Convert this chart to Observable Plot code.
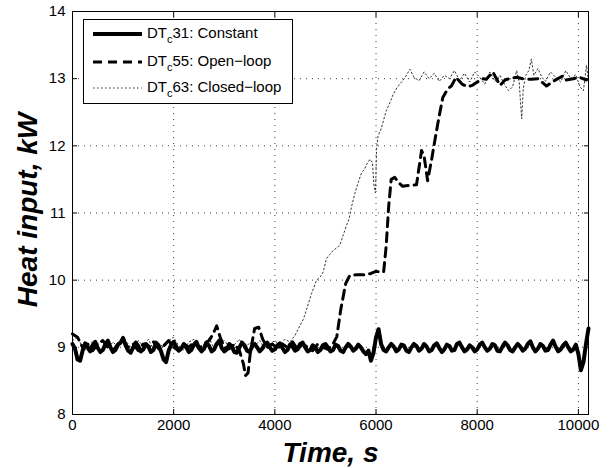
<!DOCTYPE html>
<html><head><meta charset="utf-8">
<script src="https://cdn.jsdelivr.net/npm/d3@7"></script>
<script src="https://cdn.jsdelivr.net/npm/@observablehq/plot@0.6"></script>
<style>
body{margin:0;background:#fff;}
#chart{position:relative;width:610px;height:468px;}
#legend{position:absolute;left:83px;top:19px;}
</style></head><body><div id="chart"></div>
<script>
// ---- data ----
const xTicks = [0, 2000, 4000, 6000, 8000, 10000];
const yTicks = [8, 9, 10, 11, 12, 13, 14];
const seriesPrefix = ["DT", "c"];
const seriesNames = ["31: Constant", "55: Open\u2212loop", "63: Closed\u2212loop"];

// DT_c31: Constant — sampled every 50 s from 0 s
const constantStart = 0;
const constantStep = 50;
const constantHeat = [
  9.05, 8.98, 8.82, 8.8, 8.95, 9.06, 9.0, 8.94, 9.03, 9.08, 8.99, 8.93, 8.96, 9.05, 9.1, 9.0, 8.93, 8.96, 9.04, 9.07,
  9.14, 9.03, 8.95, 8.92, 9.0, 9.07, 9.02, 8.94, 8.97, 9.05, 9.01, 8.93, 8.96, 9.07, 9.03, 8.94, 8.82, 8.78, 8.95, 9.04,
  9.08, 9.01, 8.95, 8.98, 9.05, 9.0, 8.93, 8.96, 9.04, 9.08, 8.99, 8.94, 8.98, 9.07, 9.02, 8.94, 8.97, 9.05, 9.1, 8.99,
  8.94, 8.97, 9.05, 9.01, 8.93, 8.92, 9.0, 9.07, 9.03, 8.95, 8.93, 9.01, 9.05, 9.0, 8.94, 8.98, 9.04, 9.07, 9.0, 8.95,
  8.97, 9.03, 9.06, 8.99, 8.93, 8.96, 9.04, 9.01, 8.95, 8.97, 9.05, 9.07, 9.0, 8.94, 8.96, 9.03, 9.0, 8.93, 8.96, 9.03,
  9.05, 9.0, 8.94, 8.96, 9.04, 9.02, 8.95, 8.93, 9.0, 9.05, 9.01, 8.95, 8.98, 9.04, 9.0, 8.94, 8.9, 8.95, 8.8, 8.92,
  9.15, 9.27, 9.05, 8.96, 8.94, 9.0, 9.05, 9.01, 8.94, 8.97, 9.04, 9.03, 8.95, 8.93, 9.0, 9.05, 9.02, 8.95, 8.98, 9.05,
  9.01, 8.94, 8.96, 9.03, 9.06, 8.99, 8.93, 8.97, 9.04, 9.02, 8.95, 8.96, 9.05, 9.07, 9.0, 8.94, 8.97, 9.03, 9.0, 8.94,
  8.97, 9.04, 9.07, 9.0, 8.95, 8.98, 9.05, 9.03, 8.95, 8.94, 9.01, 9.07, 9.03, 8.96, 8.94, 9.0, 9.05, 9.01, 8.95, 8.98,
  9.05, 9.09, 9.0, 8.94, 8.98, 9.05, 9.02, 8.95, 8.96, 9.04, 9.1, 9.01, 8.94, 8.97, 9.03, 9.07, 9.0, 8.94, 8.97, 9.04,
  8.9, 8.66, 8.78, 9.05, 9.28
];

// DT_c55: Open-loop
const openTime = [
  0, 100, 200, 300, 400, 500, 600, 700, 800, 900, 1000, 1100, 1200, 1300, 1400, 1500, 1600, 1700, 1800, 1900,
  2000, 2100, 2200, 2300, 2400, 2500, 2600, 2700, 2780, 2850, 2920, 3000, 3100, 3200, 3300, 3380, 3420, 3470, 3520, 3600,
  3680, 3760, 3850, 3950, 4050, 4150, 4250, 4350, 4450, 4550, 4650, 4750, 4850, 4950, 5050, 5150, 5225, 5300, 5400, 5480,
  5600, 5800, 5900, 6000, 6150, 6200, 6250, 6300, 6370, 6450, 6520, 6650, 6800, 6900, 6950, 7020, 7100, 7160, 7250, 7320,
  7420, 7490, 7580, 7700, 7810, 7900, 8000, 8110, 8180, 8310, 8450, 8550, 8680, 8780, 8900, 9070, 9200, 9370, 9500, 9690,
  9760, 9900, 10020, 10160
];
const openHeat = [
  9.2, 9.15, 9.0, 9.05, 8.95, 9.05, 9.1, 9.0, 8.95, 9.05, 9.1, 9.0, 9.05, 8.95, 9.05, 9.0, 9.08, 8.98, 9.02, 9.1,
  9.0, 8.95, 9.05, 9.0, 9.08, 8.98, 9.05, 9.1, 9.2, 9.32, 9.15, 9.0, 8.98, 9.05, 8.95, 8.75, 8.58, 8.62, 8.95, 9.28,
  9.3, 9.12, 9.0, 9.05, 8.98, 9.05, 9.0, 9.08, 8.97, 9.05, 9.0, 8.95, 9.05, 9.0, 8.97, 9.05, 9.16, 9.55, 9.95, 10.07,
  10.08, 10.08, 10.1, 10.13, 10.12, 10.5, 11.1, 11.5, 11.53, 11.45, 11.4, 11.41, 11.42, 11.93, 11.85, 11.48, 11.8, 12.07, 12.45, 12.72,
  12.85, 12.89, 13.02, 12.92, 12.88, 12.9, 12.95, 13.0, 12.99, 13.1, 12.9, 12.98, 13.01, 13.02, 13.0, 12.99, 13.0, 12.89, 12.96, 13.04,
  12.98, 13.0, 13.02, 12.98
];

// DT_c63: Closed-loop
const closedTime = [
  0, 100, 200, 300, 400, 500, 600, 700, 800, 900, 1000, 1100, 1200, 1300, 1400, 1500, 1600, 1700, 1800, 1900,
  2000, 2100, 2200, 2300, 2400, 2500, 2600, 2700, 2800, 2900, 3000, 3100, 3200, 3300, 3400, 3500, 3600, 3700, 3800, 3900,
  4000, 4100, 4200, 4300, 4400, 4480, 4565, 4650, 4725, 4825, 4900, 4955, 5020, 5080, 5150, 5220, 5285, 5350, 5420, 5470,
  5515, 5580, 5650, 5715, 5770, 5810, 5880, 5930, 5960, 5990, 6010, 6040, 6100, 6200, 6280, 6340, 6410, 6470, 6530, 6600,
  6670, 6750, 6850, 6950, 7050, 7150, 7250, 7350, 7450, 7550, 7650, 7750, 7850, 7950, 8050, 8150, 8250, 8350, 8450, 8550,
  8620, 8700, 8780, 8830, 8860, 8880, 8910, 8960, 9020, 9070, 9120, 9200, 9280, 9350, 9450, 9550, 9650, 9750, 9850, 9950,
  10030, 10100, 10160, 10200
];
const closedHeat = [
  9.1, 9.15, 9.0, 8.95, 9.1, 9.05, 9.12, 8.98, 9.08, 9.0, 9.15, 9.05, 8.95, 9.1, 9.02, 9.12, 8.97, 9.06, 9.0, 9.1,
  9.15, 9.02, 8.96, 9.08, 9.12, 9.0, 9.05, 9.14, 8.98, 9.06, 9.1, 9.0, 9.04, 9.12, 8.97, 9.07, 9.02, 9.1, 8.98, 9.05,
  9.1, 9.03, 9.12, 9.08, 9.18, 9.3, 9.42, 9.62, 9.8, 10.0, 10.05, 10.12, 10.32, 10.38, 10.44, 10.48, 10.52, 10.67, 10.82, 10.92,
  11.09, 11.29, 11.46, 11.6, 11.65, 11.72, 11.8, 11.75, 11.4, 11.3, 11.95, 12.15, 12.25, 12.52, 12.65, 12.77, 12.86, 12.92, 12.97, 13.05,
  13.14, 13.02, 12.97, 13.1, 13.0, 13.08, 12.96, 13.05, 13.0, 13.12, 12.97, 13.08, 12.95, 13.1, 13.02, 12.92, 13.1, 12.96, 13.05, 12.9,
  12.82, 12.88, 13.12, 12.95, 12.6, 12.4, 12.85, 13.05, 13.12, 13.29, 13.05, 13.15, 13.02, 12.96, 13.1, 13.02, 12.95, 13.12, 13.0, 13.06,
  12.88, 12.82, 13.2, 12.95
];

// ---- build rows ----
const constantRows = constantHeat.map((v, i) => ({t: constantStart + i * constantStep, v}));
const openRows = openTime.map((t, i) => ({t, v: openHeat[i]}));
const closedRows = closedTime.map((t, i) => ({t, v: closedHeat[i]}));

const font = "'Liberation Sans', Arial, Helvetica, sans-serif";
const gridStyle = {stroke: "black", strokeOpacity: 0.75, strokeWidth: 1, strokeDasharray: "1,5"};

const plot = Plot.plot({
  width: 610, height: 468,
  marginLeft: 72, marginRight: 22, marginTop: 11, marginBottom: 54,
  style: {fontFamily: font, fontSize: "15px", color: "black", background: "white"},
  x: {domain: [0, 10200]},
  y: {domain: [8, 14]},
  marks: [
    Plot.gridX(xTicks.slice(1), gridStyle),
    Plot.gridY(yTicks.slice(1, -1), gridStyle),
    Plot.line(closedRows, {x: "t", y: "v", stroke: "#333", strokeWidth: 1, strokeDasharray: "1.5,2.5"}),
    Plot.line(openRows, {x: "t", y: "v", stroke: "black", strokeWidth: 3, strokeDasharray: "9,6"}),
    Plot.line(constantRows, {x: "t", y: "v", stroke: "black", strokeWidth: 4}),
    Plot.frame({stroke: "black"}),
    Plot.axisX(xTicks, {anchor: "bottom", tickSize: -5, tickPadding: 10, label: null, tickFormat: d => String(d)}),
    Plot.axisX(xTicks, {anchor: "top", tickSize: -5, label: null, tickFormat: () => ""}),
    Plot.axisY(yTicks, {anchor: "left", tickSize: -5, tickPadding: 12, label: null, tickFormat: d => String(d)}),
    Plot.axisY(yTicks, {anchor: "right", tickSize: -5, label: null, tickFormat: () => ""}),
    Plot.text(["Time, s"], {text: d => d, frameAnchor: "bottom", lineAnchor: "middle", textAnchor: "middle", dy: 39, fontSize: 28, fontWeight: "bold", fontStyle: "italic"}),
    Plot.text(["Heat input, kW"], {text: d => d, frameAnchor: "left", lineAnchor: "middle", textAnchor: "middle", dx: -44, dy: -3, rotate: -90, fontSize: 28, fontWeight: "bold", fontStyle: "italic"})
  ]
});
const chart = document.getElementById("chart");
chart.appendChild(plot);

// ---- legend overlay ----
const ns = "http://www.w3.org/2000/svg";
const lg = document.createElementNS(ns, "svg");
lg.setAttribute("id", "legend");
lg.setAttribute("width", 210);
lg.setAttribute("height", 85);
lg.style.fontFamily = font;
const rect = document.createElementNS(ns, "rect");
Object.entries({x: 0.5, y: 0.5, width: 209, height: 84, fill: "white", stroke: "black"}).forEach(([k, v]) => rect.setAttribute(k, v));
lg.appendChild(rect);
const styles = [
  {stroke: "black", "stroke-width": 4},
  {stroke: "black", "stroke-width": 3, "stroke-dasharray": "9,6"},
  {stroke: "#333", "stroke-width": 1, "stroke-dasharray": "1.5,2.5"}
];
const rowY = [15, 43, 69];
seriesNames.forEach((name, i) => {
  const ln = document.createElementNS(ns, "line");
  Object.entries({x1: 10, x2: 59, y1: rowY[i], y2: rowY[i], ...styles[i]}).forEach(([k, v]) => ln.setAttribute(k, v));
  lg.appendChild(ln);
  const tx = document.createElementNS(ns, "text");
  tx.setAttribute("x", 64);
  tx.setAttribute("y", rowY[i] + 3.5);
  tx.setAttribute("font-size", 15);
  tx.appendChild(document.createTextNode(seriesPrefix[0]));
  const sub = document.createElementNS(ns, "tspan");
  sub.setAttribute("dy", 5);
  sub.setAttribute("font-size", 11);
  sub.textContent = seriesPrefix[1];
  tx.appendChild(sub);
  const rest = document.createElementNS(ns, "tspan");
  rest.setAttribute("dy", -5);
  rest.textContent = name;
  tx.appendChild(rest);
  lg.appendChild(tx);
});
chart.appendChild(lg);
</script></body></html>
